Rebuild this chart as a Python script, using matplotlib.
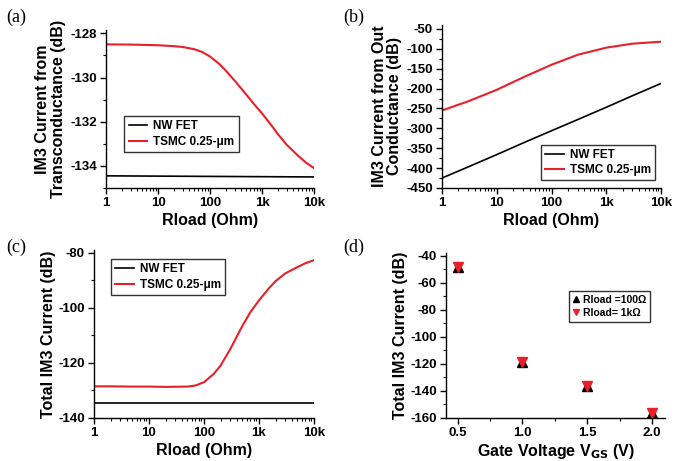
import numpy as np
import matplotlib
matplotlib.use('Agg')
import matplotlib.pyplot as plt
from matplotlib.ticker import FixedLocator, MultipleLocator, LogLocator, NullFormatter

plt.rcParams['font.family'] = ['Liberation Sans', 'DejaVu Sans']
plt.rcParams['font.weight'] = 'bold'
plt.rcParams['axes.labelweight'] = 'bold'
plt.rcParams['axes.unicode_minus'] = False

red = '#e8202a'

# (a) IM3 from transconductance
ra = [1, 3, 10, 20, 30, 50, 70, 100, 150, 200, 300, 400, 700, 1000, 1500, 2000, 3000, 5000, 7000, 10000]
a_tsmc = [-128.5, -128.51, -128.54, -128.58, -128.62, -128.72, -128.84, -129.05, -129.38, -129.68,
          -130.15, -130.5, -131.2, -131.62, -132.15, -132.55, -133.05, -133.55, -133.85, -134.1]
a_nw_r = [1, 10000]
a_nw = [-134.45, -134.5]

# (b) IM3 from output conductance
rb = [1, 3, 10, 30, 100, 300, 1000, 3000, 10000]
b_tsmc = [-255, -232, -203, -172, -140, -115, -97, -87, -82]
b_nw = [-425, -397, -366, -337, -306, -278, -247, -218, -187]

# (c) total IM3
rc = [1, 2, 5, 10, 20, 50, 70, 100, 150, 200, 300, 500, 700, 1000, 1500, 2000, 3000, 5000, 7000, 10000]
c_tsmc = [-128.5, -128.5, -128.6, -128.6, -128.7, -128.6, -128.2, -127.0, -124.0, -121.0, -115.0, -106.5, -101.5, -97.3, -93.0, -90.3, -87.5, -85.2, -83.8, -82.7]
c_nw = [-134.4] * len(rc)

# (d) total IM3 vs gate voltage
vgs = [0.5, 1.0, 1.5, 2.0]
d_100 = [-48, -118.5, -136, -156]
d_1k = [-48, -118.5, -136, -156]

W, H = 683, 461
fig = plt.figure(figsize=(W / 100, H / 100), dpi=100)

def box(l, r, t, b):
    return [l / W, (H - b) / H, (r - l) / W, (b - t) / H]

def style(ax):
    ax.spines['top'].set_visible(False)
    ax.spines['right'].set_visible(False)
    ax.tick_params(which='major', direction='out', length=4, width=1, labelsize=9.5, pad=2.5)
    ax.tick_params(which='minor', direction='out', length=2, width=0.8)
    for s in ['left', 'bottom']:
        ax.spines[s].set_linewidth(1.0)

def logx(ax):
    ax.set_xscale('log')
    ax.set_xlim(1, 10000)
    ax.set_xticks([1, 10, 100, 1000, 10000])
    ax.set_xticklabels(['1', '10', '100', '1k', '10k'])
    ax.xaxis.set_minor_locator(LogLocator(base=10, subs=np.arange(2, 10)))
    ax.xaxis.set_minor_formatter(NullFormatter())
    ax.set_xlabel('Rload (Ohm)', fontsize=11.5, labelpad=3)

leg_kw = dict(fontsize=8.5, frameon=True, fancybox=False, edgecolor='black',
              handlelength=1.6, handletextpad=0.5, borderpad=0.35, labelspacing=0.3)

# (a)
ax = fig.add_axes(box(106, 314, 30, 188))
ax.plot(a_nw_r, a_nw, color='black', lw=1.2, label='NW FET')
ax.plot(ra, a_tsmc, color=red, lw=1.5, label='TSMC 0.25-\u03bcm')
logx(ax)
ax.set_ylim(-135, -127.85)
ax.yaxis.set_major_locator(FixedLocator([-134, -132, -130, -128]))
ax.yaxis.set_minor_locator(MultipleLocator(1))
ax.set_ylabel('IM3 Current from\nTransconductance (dB)', fontsize=11.5, labelpad=3, linespacing=1.05)
style(ax)
lg = ax.legend(loc='lower left', bbox_to_anchor=(0.06, 0.19), **leg_kw)
lg.get_frame().set_linewidth(1.0)

# (b)
ax = fig.add_axes(box(442, 661, 25, 188))
ax.plot(rb, b_nw, color='black', lw=1.2, label='NW FET')
ax.plot(rb, b_tsmc, color=red, lw=1.5, label='TSMC 0.25-\u03bcm')
logx(ax)
ax.set_ylim(-450, -40)
ax.yaxis.set_major_locator(FixedLocator(np.arange(-450, -49, 50)))
ax.yaxis.set_minor_locator(MultipleLocator(25))
ax.set_ylabel('IM3 Current from Out\nConductance (dB)', fontsize=11.5, labelpad=3, linespacing=1.05)
style(ax)
lg = ax.legend(loc='lower right', bbox_to_anchor=(1.0, 0.01), **leg_kw)
lg.get_frame().set_linewidth(1.0)

# (c)
ax = fig.add_axes(box(94, 314, 250, 418))
ax.plot(rc, c_nw, color='black', lw=1.2, label='NW FET')
ax.plot(rc, c_tsmc, color=red, lw=1.5, label='TSMC 0.25-\u03bcm')
logx(ax)
ax.set_ylim(-140, -79)
ax.yaxis.set_major_locator(FixedLocator([-140, -120, -100, -80]))
ax.yaxis.set_minor_locator(MultipleLocator(10))
ax.set_ylabel('Total IM3 Current (dB)', fontsize=11.5, labelpad=2)
style(ax)
lg = ax.legend(loc='upper left', bbox_to_anchor=(0.05, 0.98), **leg_kw)
lg.get_frame().set_linewidth(1.0)

# (d)
ax = fig.add_axes(box(446, 665, 253, 418))
ax.plot(vgs, d_100, linestyle='none', marker='^', ms=6.5, color='black', label='Rload =100\u03a9')
ax.plot(vgs, d_1k, linestyle='none', marker='v', ms=6.5, color=red, label='Rload= 1k\u03a9')
ax.set_xlim(0.41, 2.1)
ax.set_ylim(-160, -38)
ax.xaxis.set_major_locator(FixedLocator([0.5, 1.0, 1.5, 2.0]))
ax.xaxis.set_minor_locator(MultipleLocator(0.25))
ax.yaxis.set_major_locator(FixedLocator(np.arange(-160, -39, 20)))
ax.yaxis.set_minor_locator(MultipleLocator(10))
ax.set_xlabel('Gate Voltage V$_{\\mathbf{GS}}$ (V)', fontsize=11.5, labelpad=2)
ax.set_ylabel('Total IM3 Current (dB)', fontsize=11.5, labelpad=2)
style(ax)
lg = ax.legend(loc='upper right', bbox_to_anchor=(0.955, 0.8), fontsize=7.5, frameon=True,
               fancybox=False, edgecolor='black', handlelength=0.6, handletextpad=0.4,
               borderpad=0.35, labelspacing=0.3, markerscale=0.7)
lg.get_frame().set_linewidth(1.0)

# panel labels
for lbl, x, y in [('(a)', 6, 22), ('(b)', 343, 22), ('(c)', 6, 252), ('(d)', 343, 252)]:
    fig.text(x / W, 1 - y / H, lbl, family='Liberation Serif', weight='normal', fontsize=13)

fig.savefig('out.png', dpi=100)
